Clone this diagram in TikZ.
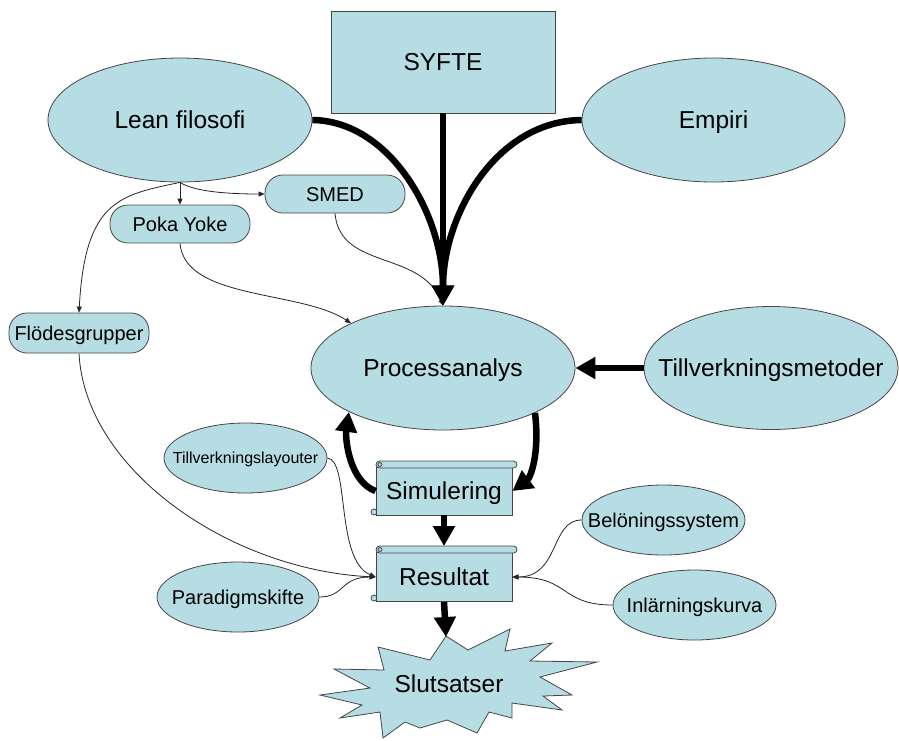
\documentclass[tikz,border=0pt]{standalone}
\usepackage{fontspec}
\setmainfont{Liberation Sans}
\usetikzlibrary{shapes.geometric,arrows.meta}
\definecolor{boxfill}{RGB}{183,221,228}
\definecolor{edgegrey}{RGB}{70,70,70}
\tikzset{
  base/.style={draw=edgegrey, line width=0.8pt, fill=boxfill, inner sep=0pt,
    font=\fontsize{20}{24}\selectfont, text height=14.3pt, text depth=0pt},
  big/.style={font=\fontsize{24.5}{29}\selectfont, text height=17.5pt, text depth=0pt},
  small/.style={font=\fontsize{16}{19}\selectfont, text height=11.5pt, text depth=0pt},
  ell/.style={base, ellipse, inner xsep=-40pt},
  pill/.style={base, rectangle, rounded corners=18pt},
  scrollbody/.style={base, rectangle, big},
  scrollpart/.style={draw=edgegrey, line width=0.8pt, fill=boxfill},
  heavy/.style={line width=6.5pt, draw=black, -{Triangle[length=20pt,width=21pt]}},
  thin/.style={line width=0.8pt, draw=black!85, -{Triangle[length=6pt,width=5pt]}},
}
\begin{document}
\begin{tikzpicture}[x=1pt,y=-1pt]
\useasboundingbox (0,0) rectangle (899,740);
\fill[white] (0,0) rectangle (899,740);

% top row
\node[base, rectangle, big, minimum width=224pt, minimum height=102pt] (syfte) at (443,62) {SYFTE};
\node[ell, big, minimum width=264pt, minimum height=124pt] (lean) at (180,120) {Lean filosofi};
\node[ell, big, minimum width=263pt, minimum height=124pt] (emp) at (713.5,120) {Empiri};

% small pills
\node[pill, minimum width=140pt, minimum height=38pt] (smed) at (335,194) {SMED};
\node[pill, minimum width=140pt, minimum height=38pt] (poka) at (180,224) {Poka Yoke};
\node[pill, minimum width=140pt, minimum height=40pt] (flod) at (79,333) {Flödesgrupper};

% middle
\node[ell, big, minimum width=264pt, minimum height=124pt] (proc) at (443,368) {Processanalys};
\node[ell, big, minimum width=254pt, minimum height=123pt] (metod) at (771,368) {Tillverkningsmetoder};

% side ellipses
\node[ell, small, minimum width=163pt, minimum height=70pt] (layout) at (245.5,458) {Tillverkningslayouter};
\node[ell, minimum width=162pt, minimum height=70pt] (para) at (238,597) {Paradigmskifte};
\node[ell, minimum width=163pt, minimum height=70pt] (bel) at (663.5,520) {Belöningssystem};
\node[ell, minimum width=163pt, minimum height=70pt] (inl) at (694.5,605) {Inlärningskurva};

% scrolls
\draw[scrollpart] (374,512) circle[radius=3pt];
\node[scrollbody, minimum width=136pt, minimum height=48pt] (sim) at (444,491) {Simulering};
\draw[scrollpart, rounded corners=3.5pt] (376,461) rectangle (517,468);
\draw[scrollpart] (380,464.5) circle[radius=2pt];

\draw[scrollpart] (374,598) circle[radius=3pt];
\node[scrollbody, minimum width=136pt, minimum height=49pt] (res) at (444,577) {Resultat};
\draw[scrollpart, rounded corners=3.5pt] (376,546) rectangle (517,553);
\draw[scrollpart] (380,549.5) circle[radius=2pt];

% starburst
\draw[scrollpart, line join=miter] (446,636) -- (468,650) -- (510,629) -- (505,651) -- (552,643)
  -- (530,661) -- (597,662) -- (540,677) -- (572,695) -- (543,696) -- (562,710)
  -- (512,703) -- (512,718) -- (489,712) -- (477,733) -- (447,720) -- (420,728)
  -- (405,722) -- (383,738) -- (380,712) -- (340,718) -- (362,705) -- (320,695)
  -- (370,688) -- (334,669) -- (384,670) -- (378,647) -- (430,660) -- cycle;
\node[big] (slut) at (449,684) {Slutsatser};
\coordinate (startip) at (446,637);

% thin connectors
\draw[thin] (lean.south) -- (poka.north);
\draw[thin] (lean.south) .. controls (195,192) and (230,194) .. (smed.west);
\draw[thin] (lean.south) .. controls (120,195) and (85,200) .. (flod.north);
\draw[thin] (poka.south) .. controls (185,300) and (300,290) .. (proc.154);
\draw[thin] (smed.south) .. controls (340,270) and (420,250) .. (proc.north);
\draw[thin] (flod.south) .. controls (85,470) and (230,570) .. (res.west);
\draw[thin] (layout.east) .. controls (350,460) and (335,560) .. (res.west);
\draw[thin] (para.east) .. controls (345,597) and (340,577) .. (res.west);
\draw[thin] (bel.west) .. controls (550,520) and (560,577) .. (res.east);
\draw[thin] (inl.west) .. controls (560,605) and (570,577) .. (res.east);

% heavy connectors
\draw[heavy] (syfte.south) -- (proc.north);
\draw[heavy] (lean.east) .. controls (390,121) and (443,215) .. (proc.north);
\draw[heavy] (emp.west) .. controls (496,121) and (443,215) .. (proc.north);
\draw[heavy] (metod.west) -- (proc.east);
\draw[heavy] (proc.334) .. controls (540,455) and (530,478) .. (sim.east);
\draw[heavy] (sim.west) .. controls (350,482) and (345,440) .. (proc.205);
\draw[heavy] (sim.south) -- ([yshift=6pt]res.north);
\draw[heavy] (res.south) -- (startip);
\end{tikzpicture}
\end{document}
